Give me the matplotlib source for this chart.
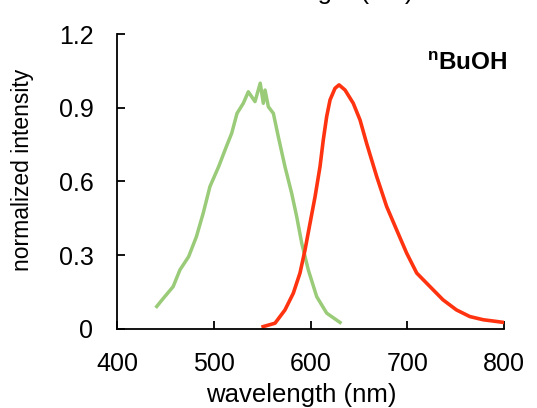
import matplotlib
matplotlib.use('Agg')
import matplotlib.pyplot as plt

plt.rcParams['font.family'] = ['Liberation Sans', 'DejaVu Sans']

# absorption (green) and emission (red) spectra
abs_wl = [441, 448, 458, 465, 474, 482, 489, 496, 505, 513, 518.5, 524, 530.5,
          535.7, 542.6, 548, 551.2, 553, 556.4, 561.6, 566.7, 573.6, 580.5,
          585.7, 590.9, 597.7, 606.4, 616.7, 630.5]
abs_int = [0.091, 0.125, 0.172, 0.24, 0.294, 0.375, 0.47, 0.579, 0.66, 0.742,
           0.796, 0.877, 0.918, 0.965, 0.925, 1.0, 0.918, 0.972, 0.904, 0.877,
           0.782, 0.66, 0.552, 0.457, 0.349, 0.24, 0.131, 0.064, 0.026]

em_wl = [551, 563.3, 573.6, 582.2, 589.1, 594.3, 599.5, 604.7, 609.8, 613.2,
         616.7, 620.2, 625.3, 629.5, 635.7, 644.2, 651.2, 658, 668.4, 678.7,
         689, 699.4, 709.8, 723.5, 737, 750.9, 764.7, 778.6, 792.4, 800]
em_int = [0.009, 0.023, 0.077, 0.145, 0.227, 0.321, 0.43, 0.538, 0.66, 0.769,
          0.864, 0.932, 0.979, 0.993, 0.972, 0.918, 0.85, 0.755, 0.62, 0.498,
          0.403, 0.308, 0.227, 0.172, 0.118, 0.077, 0.05, 0.037, 0.03, 0.026]

xticks = [400, 500, 600, 700, 800]
yticks = [0, 0.3, 0.6, 0.9, 1.2]
ylabels = ['0', '0.3', '0.6', '0.9', '1.2']

fig = plt.figure(figsize=(5.37, 4.08), dpi=100)
ax = fig.add_axes([0.218, 0.194, 0.7205, 0.7226])

ax.plot(abs_wl, abs_int, color='#9acb78', lw=2.5)
ax.plot(em_wl, em_int, color='#ff3310', lw=2.6)

ax.set_xlim(400, 800)
ax.set_ylim(0, 1.2)
ax.set_xticks(xticks)
ax.set_yticks(yticks)
ax.set_yticklabels(ylabels)
ax.tick_params(direction='in', length=6, width=1.3, labelsize=18, pad=17)
for s in ['top', 'right']:
    ax.spines[s].set_visible(False)
for s in ['left', 'bottom']:
    ax.spines[s].set_linewidth(1.3)

ax.set_xlabel('wavelength (nm)', fontsize=18.5)
ax.set_ylabel('normalized intensity', fontsize=16.5)
ax.xaxis.set_label_coords((301.5 - 117) / 387, -0.183)
ax.yaxis.set_label_coords(-0.215, (329 - 170) / 295)

ax.text(1.01, (329 - 70) / 295, r'$^{\mathregular{n}}$BuOH',
        transform=ax.transAxes, ha='right', va='baseline', fontsize=17.5,
        fontweight='bold')

# bottom of the axis title of the panel above, cut off by the frame
fig.text(318 / 537, 1 + 1 / 408, 'wavelength (nm)', ha='center',
         va='baseline', fontsize=18.5)

fig.savefig('out.png', dpi=100)
